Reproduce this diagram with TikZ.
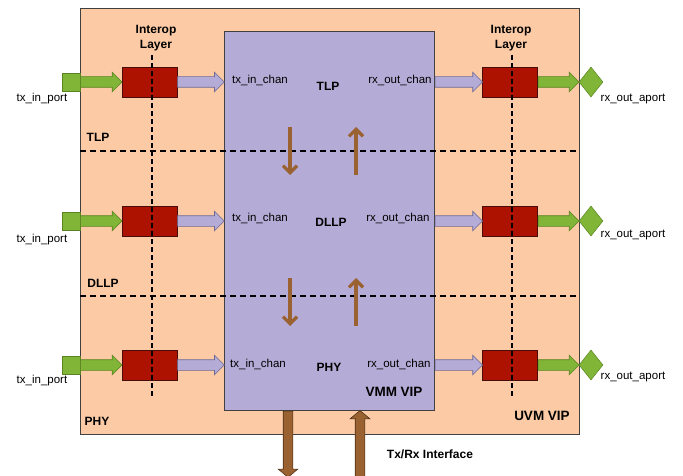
\documentclass[tikz,border=0pt]{standalone}
\usepackage{fontspec}
\setmainfont{Liberation Sans}
\usetikzlibrary{positioning,arrows.meta,shapes.geometric,shapes.arrows,calc}

\definecolor{peach}{HTML}{FCCBA5}
\definecolor{lavender}{HTML}{B4ACD6}
\definecolor{lavline}{HTML}{6F6A92}
\definecolor{ilred}{HTML}{AD1200}
\definecolor{illine}{HTML}{4A0D05}
\definecolor{portgreen}{HTML}{80B537}
\definecolor{greenline}{HTML}{5A8420}
\definecolor{ifbrown}{HTML}{9A6131}
\definecolor{brownline}{HTML}{4F3218}

\begin{document}
\begin{tikzpicture}[
  x=1pt, y=-1pt,
  frame/.style={rectangle, draw=black!75, line width=0.8pt, anchor=north west, inner sep=0pt},
  uvmbox/.style={frame, fill=peach},
  vmmbox/.style={frame, fill=lavender},
  interop/.style={rectangle, draw=illine, fill=ilred, line width=0.6pt,
                  minimum width=55, minimum height=30, inner sep=0pt},
  inport/.style={rectangle, draw=greenline, fill=portgreen, line width=0.5pt,
                 minimum size=18, inner sep=0pt},
  outport/.style={diamond, draw=greenline, fill=portgreen, line width=0.5pt,
                  minimum width=24, minimum height=30, inner sep=0pt},
  fatbase/.style={single arrow, inner xsep=0pt, inner ysep=5pt, line width=0.6pt,
                  single arrow head extend=4.5pt},
  garrow/.style={fatbase, fill=portgreen, draw=greenline},
  larrow/.style={fatbase, fill=lavender, draw=lavline},
  barrow/.style={fatbase, fill=ifbrown, draw=brownline, inner ysep=4.5pt,
                 single arrow head extend=5pt, single arrow tip angle=100},
  fat/.style={to path={let \p1=(\tikztostart), \p2=(\tikztotarget),
      \n1={atan2(\y2-\y1,\x2-\x1)}, \n2={veclen(\x2-\x1,\y2-\y1)} in
      node[#1, anchor=tail, rotate=\n1, minimum height=\n2] {} (\p2)}},
  sep/.style={draw=black, line width=1.2pt, dash pattern=on 6pt off 4pt},
  flow/.style={draw=ifbrown, line width=3.2pt, -{Straight Barb[length=7pt,width=14pt]}},
  chan/.style={font=\fontsize{11.5}{13}\selectfont, inner sep=0pt},
  lbl/.style={font=\fontsize{12}{15}\selectfont\bfseries, inner sep=0pt},
  big/.style={font=\fontsize{13.5}{15}\selectfont\bfseries, inner sep=0pt},
]
\useasboundingbox (0,0) rectangle (683,476);

\node[uvmbox, minimum width=499, minimum height=426] (uvm) at (80,8) {};
\node[vmmbox, minimum width=210, minimum height=379] (vmm) at (224,31) {};

\draw[sep] (uvm.west |- 0,151) -- (uvm.east |- 0,151);
\draw[sep] (uvm.west |- 0,296) -- (uvm.east |- 0,296);

\foreach \i/\y in {1/82, 2/221, 3/365} {
  \node[interop] (ilin\i)  at (149.5,\y) {};
  \node[interop] (ilout\i) at (510,\y) {};
  \node[inport]  (pin\i)   at (71,\y) {};
  \node[outport] (pout\i)  at (591,\y) {};
}

\draw[sep, dash pattern=on 5pt off 3pt] (152,55) -- (152,396);
\draw[sep, dash pattern=on 5pt off 3pt] (512,55) -- (512,396);

\foreach \i in {1,2,3} {
  \path (pin\i.east) to[fat=garrow] (ilin\i.west);
  \path (ilin\i.east) to[fat=larrow] (ilin\i.east -| vmm.west);
  \path (ilout\i.west -| vmm.east) to[fat=larrow] (ilout\i.west);
  \path (ilout\i.east) to[fat=garrow] (pout\i.west);
}

\draw[flow] (290,127) -- (290,175);
\draw[flow] (356,175) -- (356,127);
\draw[flow] (290,278) -- (290,326);
\draw[flow] (356,326) -- (356,278);

\coordinate (txout) at (288,477);
\coordinate (rxin) at (360,480);
\path (vmm.south -| txout) to[fat=barrow] (txout);
\path (rxin) to[fat=barrow] (vmm.south -| rxin);

\node[lbl, align=center] (ilt1) at (156,38) {Interop\\Layer};
\node[lbl, align=center] (ilt2) at (511,38) {Interop\\Layer};

\node[chan] (tp1) at (42,99)  {tx\_in\_port};
\node[chan] (tp2) at (42,240) {tx\_in\_port};
\node[chan] (tp3) at (42,381) {tx\_in\_port};
\node[chan] (rp1) at (633,99)  {rx\_out\_aport};
\node[chan] (rp2) at (633,235) {rx\_out\_aport};
\node[chan] (rp3) at (633,377) {rx\_out\_aport};

\node[chan] (tc1) at (260,80)  {tx\_in\_chan};
\node[chan] (tc2) at (260,218) {tx\_in\_chan};
\node[chan] (tc3) at (258,364) {tx\_in\_chan};
\node[chan] (rc1) at (400,80)  {rx\_out\_chan};
\node[chan] (rc2) at (398,218) {rx\_out\_chan};
\node[chan] (rc3) at (399,364) {rx\_out\_chan};

\node[lbl] (vtlp)  at (328,86)  {TLP};
\node[lbl] (vdllp) at (331,222) {DLLP};
\node[lbl] (vphy)  at (329,367) {PHY};

\node[lbl] (mtlp)  at (98,137)  {TLP};
\node[lbl] (mdllp) at (103,283) {DLLP};
\node[lbl] (mphy)  at (97,421)  {PHY};

\node[big] (vmmname) at (394,392) {VMM VIP};
\node[big] (uvmname) at (542,416) {UVM VIP};
\node[lbl] (ifname)  at (430,454) {Tx/Rx Interface};
\end{tikzpicture}
\end{document}
